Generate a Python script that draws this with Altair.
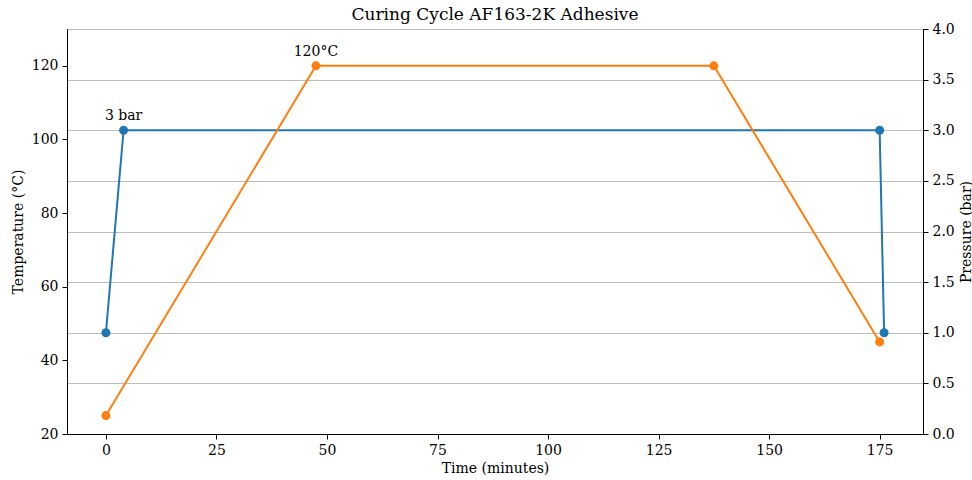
import altair as alt
import pandas as pd

# Temperature series (left axis)
temp_time = [0, 47.5, 137.5, 175]
temp_values = [25, 120, 120, 45]
# Pressure series (right axis)
pres_time = [0, 4, 175, 176]
pres_values = [1, 3, 3, 1]
# Annotations
temp_ann_time = [47.5]
temp_ann_value = [120]
temp_ann_text = ["120°C"]
pres_ann_time = [4]
pres_ann_value = [3]
pres_ann_text = ["3 bar"]

x_ticks = [0, 25, 50, 75, 100, 125, 150, 175]
temp_ticks = [20, 40, 60, 80, 100, 120]
pres_ticks = [0, 0.5, 1.0, 1.5, 2.0, 2.5, 3.0, 3.5, 4.0]

FONT = "DejaVu Serif"
BLUE = "#1f77b4"
ORANGE = "#ff7f0e"

temp_df = pd.DataFrame({"time": temp_time, "temp": temp_values})
pres_df = pd.DataFrame({"time": pres_time, "pres": pres_values})
temp_ann = pd.DataFrame({"time": temp_ann_time, "temp": temp_ann_value, "label": temp_ann_text})
pres_ann = pd.DataFrame({"time": pres_ann_time, "pres": pres_ann_value, "label": pres_ann_text})

x_enc = alt.X("time:Q",
              scale=alt.Scale(domain=[-8.8, 184.8], nice=False, zero=False),
              axis=alt.Axis(title="Time (minutes)", values=x_ticks, grid=False,
                            format="d", labelPadding=4, titlePadding=4))

y_temp = alt.Y("temp:Q",
               scale=alt.Scale(domain=[20, 130], nice=False, zero=False),
               axis=alt.Axis(title="Temperature (°C)", orient="left", values=temp_ticks,
                             grid=False, format="d", labelPadding=4,
                             titleAngle=270, titleX=-49, titleY=202.5,
                             titleAlign="center", titleBaseline="middle"))

y_pres = alt.Y("pres:Q",
               scale=alt.Scale(domain=[0, 4], nice=False, zero=False),
               axis=alt.Axis(title="Pressure (bar)", orient="right", values=pres_ticks,
                             grid=True, format=".1f", labelPadding=4,
                             titleAngle=270, titleX=43, titleY=202.5,
                             titleAlign="center", titleBaseline="middle",
                             gridColor="#bdbdbd", gridWidth=1.1))

pres_line = alt.Chart(pres_df).mark_line(color=BLUE, strokeWidth=2,
                                         point=alt.OverlayMarkDef(color=BLUE, size=80, filled=True, opacity=1)
                                         ).encode(x=x_enc, y=y_pres)
pres_text = alt.Chart(pres_ann).mark_text(font=FONT, fontSize=14, color="black",
                                          baseline="alphabetic", align="center", dy=-10
                                          ).encode(x="time:Q", y="pres:Q", text="label:N")
pres_layer = alt.layer(pres_line, pres_text)

temp_line = alt.Chart(temp_df).mark_line(color=ORANGE, strokeWidth=2,
                                         point=alt.OverlayMarkDef(color=ORANGE, size=80, filled=True, opacity=1)
                                         ).encode(x=x_enc, y=y_temp)
temp_text = alt.Chart(temp_ann).mark_text(font=FONT, fontSize=14, color="black",
                                          baseline="alphabetic", align="center", dy=-10
                                          ).encode(x="time:Q", y="temp:Q", text="label:N")
temp_layer = alt.layer(temp_line, temp_text)

chart = alt.layer(pres_layer, temp_layer).resolve_scale(y="independent").properties(
    width=856, height=405,
    background="white",
    title=alt.TitleParams("Curing Cycle AF163-2K Adhesive", font=FONT, fontSize=17,
                          fontWeight="normal", anchor="middle", offset=-2, color="black"),
    autosize=alt.AutoSizeParams(type="none"),
    padding={"left": 67, "top": 29, "right": 49, "bottom": 46},
).configure_view(stroke="black", strokeWidth=1).configure_axis(
    labelFont=FONT, titleFont=FONT, labelFontSize=14, titleFontSize=14,
    titleFontWeight="normal", labelColor="black", titleColor="black",
    domainColor="black", domainWidth=1, tickColor="black", tickSize=5, tickWidth=1,
)

chart.save("out.html", embed_options={"renderer": "svg", "actions": False})
